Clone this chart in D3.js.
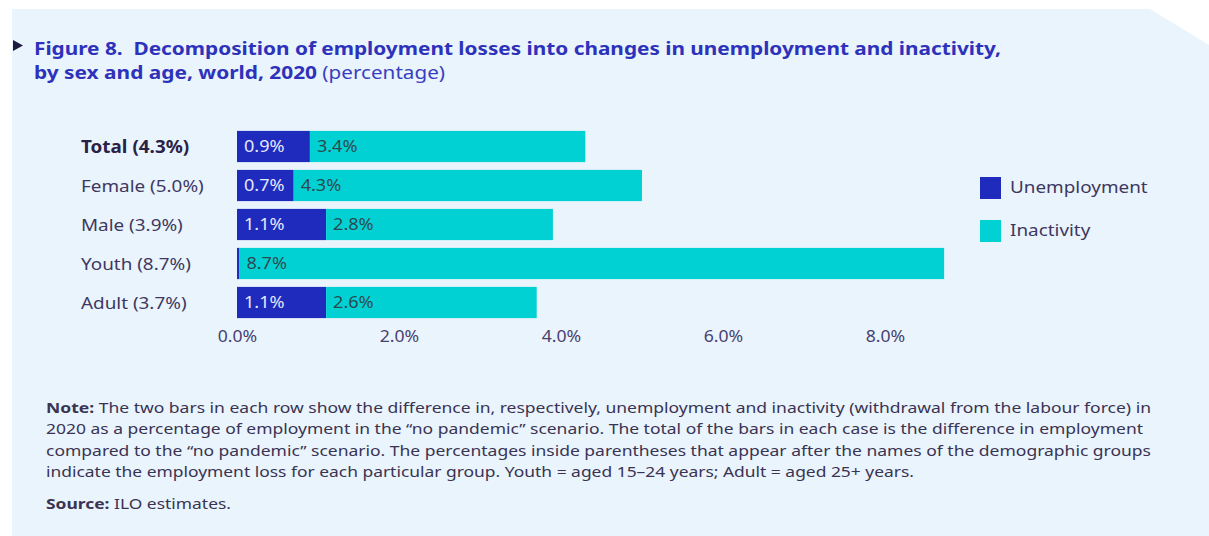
<!DOCTYPE html>
<html>
<head>
<meta charset="utf-8">
<script src="https://cdn.jsdelivr.net/npm/d3@7"></script>
<style>
  html, body { margin: 0; padding: 0; background: #ffffff; }
  svg { display: block; font-family: "Noto Sans", "Open Sans", sans-serif; }
  svg text { white-space: pre; }
</style>
</head>
<body>
<svg id="chart" width="1209" height="536"></svg>
<script>
// Employment-loss decomposition by group (percentage points of "no pandemic" employment)
const categories = ["Total (4.3%)", "Female (5.0%)", "Male (3.9%)", "Youth (8.7%)", "Adult (3.7%)"];
const unemployment = [0.9, 0.7, 1.1, 0.03, 1.1];
const inactivity = [3.4, 4.3, 2.8, 8.7, 2.6];
const tickValues = [0, 2, 4, 6, 8];
const seriesNames = ["Unemployment", "Inactivity"];
const seriesColors = ["#1f2bbd", "#02d1d3"];

const titleLine1 = "Figure 8.  Decomposition of employment losses into changes in unemployment and inactivity,";
const titleLine2Bold = "by sex and age, world, 2020";
const titleLine2Rest = " (percentage)";
const noteLines = [
  [["Note:", true], [" The two bars in each row show the difference in, respectively, unemployment and inactivity (withdrawal from the labour force) in", false]],
  [["2020 as a percentage of employment in the \u201cno pandemic\u201d scenario. The total of the bars in each case is the difference in employment", false]],
  [["compared to the \u201cno pandemic\u201d scenario. The percentages inside parentheses that appear after the names of the demographic groups", false]],
  [["indicate the employment loss for each particular group. Youth = aged 15\u201324 years; Adult = aged 25+ years.", false]]
];
const sourceLine = [["Source:", true], [" ILO estimates.", false]];

const svg = d3.select("#chart");

// Squeeze or stretch a text element to a given width
function fitWidth(sel, w) {
  const len = sel.node().getComputedTextLength();
  if (Math.abs(len - w) > 1) {
    sel.attr("textLength", w).attr("lengthAdjust", "spacingAndGlyphs");
  }
}
// Widen each text in a selection by a constant factor
function widen(sel, k) {
  sel.each(function () {
    const len = this.getComputedTextLength();
    d3.select(this).attr("textLength", len * k).attr("lengthAdjust", "spacingAndGlyphs");
  });
}

// Panel background with clipped top-right corner
svg.append("path")
  .attr("d", "M12,9 L1150,9 L1209,45 L1209,536 L12,536 Z")
  .attr("fill", "#e9f4fd");

// Title marker
svg.append("path")
  .attr("d", "M13,40 L23,45.5 L13,51 Z")
  .attr("fill", "#1c1a3e");

// Title
const t1 = svg.append("text")
  .attr("x", 34).attr("y", 55)
  .attr("font-size", 18).attr("font-weight", 700)
  .attr("fill", "#2e32bb")
  .text(titleLine1);
fitWidth(t1, 967);

const t2a = svg.append("text")
  .attr("x", 34).attr("y", 79)
  .attr("font-size", 18).attr("font-weight", 700)
  .attr("fill", "#2e32bb")
  .text(titleLine2Bold);
fitWidth(t2a, 283);
const t2b = svg.append("text")
  .attr("x", 317).attr("y", 79)
  .attr("font-size", 18).attr("font-weight", 400)
  .attr("fill", "#3a3ec0")
  .text(titleLine2Rest);
fitWidth(t2b, 128);

// Scales
const x = d3.scaleLinear().domain([0, 8]).range([237, 885]);
const y = d3.scaleBand().domain(categories).range([127, 322])
  .paddingInner(0.2).paddingOuter(0.1);

const rows = categories.map((c, i) => ({
  cat: c, u: unemployment[i], n: inactivity[i], i
}));

// Bars
const g = svg.append("g");
g.selectAll("rect.unemp").data(rows).join("rect")
  .attr("class", "unemp")
  .attr("x", d => x(0))
  .attr("y", d => y(d.cat))
  .attr("width", d => x(d.u) - x(0))
  .attr("height", y.bandwidth())
  .attr("fill", seriesColors[0]);

g.selectAll("rect.inact").data(rows).join("rect")
  .attr("class", "inact")
  .attr("x", d => x(d.u))
  .attr("y", d => y(d.cat))
  .attr("width", d => x(d.u + d.n) - x(d.u))
  .attr("height", y.bandwidth())
  .attr("fill", seriesColors[1]);

// Value labels inside the bars
const fmt = v => v.toFixed(1) + "%";
const ulab = g.selectAll("text.ulab").data(rows.filter(d => d.u >= 0.1)).join("text")
  .attr("class", "ulab")
  .attr("x", d => x(0) + 7)
  .attr("y", d => y(d.cat) + y.bandwidth() / 2)
  .attr("dy", "0.36em")
  .attr("font-size", 16)
  .attr("fill", "#e6e8ff")
  .text(d => fmt(d.u));
widen(ulab, 1.13);

const nlab = g.selectAll("text.nlab").data(rows).join("text")
  .attr("class", "nlab")
  .attr("x", d => x(d.u) + 7)
  .attr("y", d => y(d.cat) + y.bandwidth() / 2)
  .attr("dy", "0.36em")
  .attr("font-size", 16)
  .attr("fill", "#2a4950")
  .text(d => fmt(d.n));
widen(nlab, 1.13);

// Category labels
const clab = svg.append("g").selectAll("text").data(rows).join("text")
  .attr("x", 81)
  .attr("y", d => y(d.cat) + y.bandwidth() / 2)
  .attr("dy", "0.36em")
  .attr("font-size", 17)
  .attr("font-weight", d => d.i === 0 ? 700 : 400)
  .attr("fill", d => d.i === 0 ? "#2a2145" : "#3f3760")
  .text(d => d.cat);
widen(clab, 1.11);

// X axis (labels only)
const axis = svg.append("g")
  .attr("transform", "translate(0,326)")
  .call(d3.axisBottom(x).tickValues(tickValues).tickFormat(d => d.toFixed(1) + "%").tickSize(0).tickPadding(5));
axis.select(".domain").remove();
axis.selectAll("text")
  .attr("font-family", "Noto Sans, sans-serif")
  .attr("font-size", 16)
  .attr("fill", "#4a3f70");
widen(axis.selectAll("text"), 1.1);

// Legend
const legend = svg.append("g");
seriesNames.forEach((name, i) => {
  const ly = 177 + i * 43;
  legend.append("rect")
    .attr("x", 980).attr("y", ly)
    .attr("width", 21).attr("height", 22)
    .attr("fill", seriesColors[i]);
  const lt = legend.append("text")
    .attr("x", 1010).attr("y", ly + 10)
    .attr("dy", "0.36em")
    .attr("font-size", 17)
    .attr("fill", "#3f3760")
    .text(name);
  widen(lt, 1.11);
});

// Note and source
const noteWidths = [1105, 1097, 1105, 868];
noteLines.forEach((parts, i) => {
  const t = svg.append("text")
    .attr("x", 46).attr("y", 413 + i * 21.3)
    .attr("font-size", 15)
    .attr("fill", "#3a3352");
  parts.forEach(([s, bold]) => {
    t.append("tspan").attr("font-weight", bold ? 700 : 400).text(s);
  });
  fitWidth(t, noteWidths[i]);
});
const src = svg.append("text")
  .attr("x", 46).attr("y", 509)
  .attr("font-size", 15)
  .attr("fill", "#3a3352");
sourceLine.forEach(([s, bold]) => {
  src.append("tspan").attr("font-weight", bold ? 700 : 400).text(s);
});
fitWidth(src, 185);
</script>
</body>
</html>
